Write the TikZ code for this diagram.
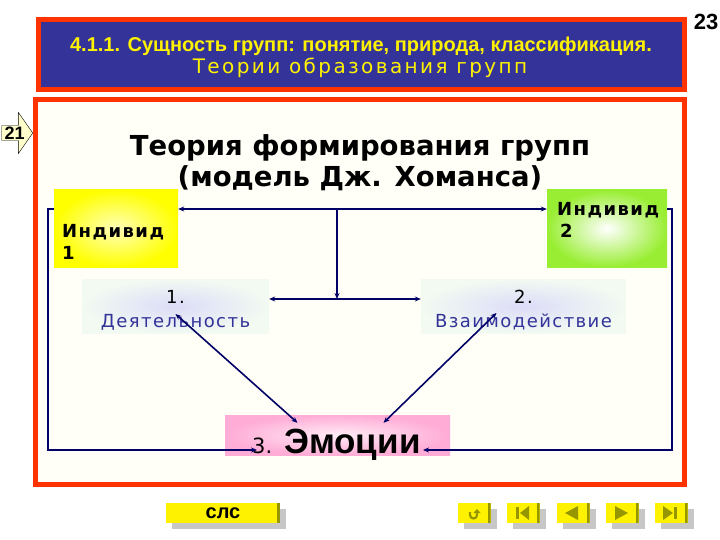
\documentclass[tikz,border=0pt]{standalone}
\usepackage{fontspec}
\setmainfont{DejaVu Sans}
\newfontfamily\arialfont{Liberation Sans}
\newfontfamily\wideface[LetterSpace=8]{DejaVu Sans}
\newfontfamily\headface[LetterSpace=12]{DejaVu Sans}
\usetikzlibrary{arrows.meta, positioning, calc, shapes.arrows, shadows}
\definecolor{headblue}{RGB}{51,51,153}
\definecolor{framered}{RGB}{255,51,0}
\definecolor{linknavy}{RGB}{0,0,102}
\definecolor{paper}{RGB}{255,255,247}
\definecolor{indyellow}{RGB}{255,255,0}
\definecolor{indlight}{RGB}{255,255,185}
\definecolor{indgreen}{RGB}{153,238,51}
\definecolor{stagelav}{RGB}{220,220,248}
\definecolor{stagepale}{RGB}{242,250,242}
\definecolor{emopink}{RGB}{255,172,214}
\definecolor{emolight}{RGB}{255,236,246}
\definecolor{btnolive}{RGB}{150,150,0}
\definecolor{noteyellow}{RGB}{255,255,204}
\tikzstyle{ar} = [-{Stealth[length=6pt,width=5pt]}, line width=1.6pt, draw=linknavy]
\tikzstyle{dar} = [{Stealth[length=6pt,width=5pt]}-{Stealth[length=6pt,width=5pt]}, line width=1.6pt, draw=linknavy]

\begin{document}
\begin{tikzpicture}[x=1pt, y=-1pt,
  frame/.style={rectangle, draw=framered, line width=5pt},
  indiv/.style={rectangle, minimum height=77pt},
  indtext/.style={anchor=base west, align=left, inner sep=0pt, font=\wideface\bfseries\fontsize{18}{22}\selectfont},
  stage/.style={rectangle, minimum height=54pt, inner color=stagelav, outer color=stagepale},
  stagetext/.style={anchor=base, align=center, inner sep=0pt, font=\wideface\fontsize{18}{24}\selectfont},
  navbtn/.style={rectangle, fill=yellow, minimum width=33pt, minimum height=20pt,
    drop shadow={shadow xshift=6pt, shadow yshift=-6pt, fill=black!22, opacity=1},
    path picture={\fill[btnolive] (path picture bounding box.north east) rectangle ([xshift=-3pt]path picture bounding box.south east);}},
  icon/.style={fill=btnolive}]

  \useasboundingbox (0,0) rectangle (720,540);
  \fill[white] (0,0) rectangle (720,540);

  \node[frame, fill=headblue, minimum width=646pt, minimum height=70pt] (head) at (361,54.5) {};
  \node[anchor=base, text=yellow, font=\arialfont\bfseries\fontsize{20}{20}\selectfont] (headtop) at (361,52) {4.1.1. Сущность групп: понятие, природа, классификация.};
  \node[anchor=base, text=yellow, font=\headface\fontsize{20}{20}\selectfont] (headsub) at (360,74) {Теории образования групп};
  \node[anchor=base, font=\arialfont\bfseries\fontsize{22}{22}\selectfont] (pageno) at (706,30) {23};

  \node[frame, fill=paper, minimum width=649pt, minimum height=385pt] (slide) at (360,292) {};
  \node[single arrow, draw, fill=noteyellow, anchor=tip, inner sep=1pt, single arrow head extend=13pt,
        single arrow tip angle=110, minimum height=31pt, font=\arialfont\bfseries\fontsize{18}{18}\selectfont] (backref) at (33,133) {21};

  \node[anchor=base, align=center, font=\bfseries\fontsize{27.5}{31}\selectfont] (theory) at (360,187) {Теория формирования групп\\(модель Дж. Хоманса)};

  \node[indiv, minimum width=124pt, inner color=indlight, outer color=indyellow] (ind1) at (116,228.5) {};
  \node[indiv, minimum width=120pt, inner color=white, outer color=indgreen] (ind2) at (607,228.5) {};
  \node[indtext] (ind1text) at (62,259) {Индивид\\1};
  \node[indtext] (ind2text) at (557,237) {Индивид\\\hspace{3pt}2};

  \node[stage, minimum width=187pt] (act) at (175.5,306) {};
  \node[stage, minimum width=205pt] (inter) at (523.5,306) {};
  \node[stagetext] (acttext) at (175.5,327) {1.\\\textcolor{headblue}{Деятельность}};
  \node[stagetext] (intertext) at (523.5,327) {2.\\\textcolor{headblue}{Взаимодействие}};

  \node[rectangle, minimum width=225pt, minimum height=40pt, inner color=emolight, outer color=emopink] (emo) at (337.5,435) {};
  \node[anchor=base west, inner sep=0pt] (emotext) at (252,453) {{\fontsize{21}{21}\selectfont 3.}\hspace{12pt}{\arialfont\bfseries\fontsize{35}{35}\selectfont Эмоции}};

  \coordinate (toprail) at (337,209);
  \coordinate (midrail) at (337,299);
  \coordinate (leftrail) at (48,450);
  \coordinate (rightrail) at (672,450);
  \coordinate (emoleft) at (257,450);
  \coordinate (emoright) at (423,450);

  \draw[dar] (ind1.east |- toprail) -- (ind2.west |- toprail);
  \draw[ar] (toprail) -- (midrail);
  \draw[dar] (act.east |- midrail) -- (inter.west |- midrail);
  \draw[ar] (ind1.west |- toprail) -| (leftrail) -- (emoleft);
  \draw[ar] (ind2.east |- toprail) -| (rightrail) -- (emoright);
  \draw[dar] ($(act.center)+(0,8)$) -- ($(emo.north)+(-40,8)$);
  \draw[dar] ($(inter.center)+(-27,7)$) -- ($(emo.north)+(46,8)$);

  \node[navbtn, minimum width=114pt, font=\arialfont\bfseries\fontsize{20}{20}\selectfont] (slcbtn) at (223,513) {слс};
  \node[navbtn] (btnret) at (474,513) {};
  \node[navbtn] (btnfirst) at (523,513) {};
  \node[navbtn] (btnprev) at (573,513) {};
  \node[navbtn] (btnnext) at (622,513) {};
  \node[navbtn] (btnlast) at (671,513) {};

  \draw[btnolive, line width=2.2pt, -{Triangle[length=4pt,width=7pt]}] ($(btnret)+(-4,-1)$) -- ++(0,3) arc[start angle=180, end angle=0, radius=3.5] -- ++(0,-6);
  \fill[icon] ($(btnfirst)+(-7,-6)$) rectangle ($(btnfirst)+(-4,6)$);
  \fill[icon] ($(btnfirst)+(-3,0)$) -- ($(btnfirst)+(6,-7)$) -- ($(btnfirst)+(6,7)$) -- cycle;
  \fill[icon] ($(btnprev)+(-8,0)$) -- ($(btnprev)+(5,-7)$) -- ($(btnprev)+(5,7)$) -- cycle;
  \fill[icon] ($(btnnext)+(6,0)$) -- ($(btnnext)+(-7,-7)$) -- ($(btnnext)+(-7,7)$) -- cycle;
  \fill[icon] ($(btnlast)+(2,0)$) -- ($(btnlast)+(-8,-7)$) -- ($(btnlast)+(-8,7)$) -- cycle;
  \fill[icon] ($(btnlast)+(3,-6)$) rectangle ($(btnlast)+(6,6)$);
\end{tikzpicture}
\end{document}
